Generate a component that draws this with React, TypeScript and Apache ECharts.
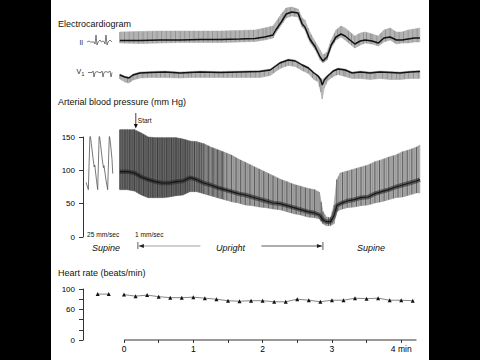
import React, { useEffect, useRef } from "react";
import * as echarts from "echarts";

// ---------- Electrocardiogram (time in minutes, amplitude in mV) ----------
const leadIITime = [-0.06, 0.23, 0.52, 0.81, 1.10, 1.39, 1.67, 1.89, 2.03, 2.15, 2.19, 2.27, 2.34, 2.42, 2.51, 2.57, 2.61, 2.68, 2.76, 2.83, 2.87, 2.93, 2.99, 3.06, 3.13, 3.19, 3.26, 3.33, 3.41, 3.48, 3.58, 3.67, 3.75, 3.84, 3.93, 4.01, 4.10, 4.19, 4.27];
const leadIIUpper = [0.8, 0.85, 0.9, 0.9, 0.9, 0.9, 0.95, 1.0, 1.2, 1.4, 1.8, 2.6, 3.2, 3.3, 3.1, 2.2, 2.0, 0.8, -0.2, -1.0, -1.5, -1.2, 0, 1.0, 1.4, 1.2, 0.8, 0.4, 0.7, 0.8, 0.6, 0.4, 1.0, 1.2, 0.8, 0.8, 1.0, 1.1, 1.2];
const leadIILower = [-0.3, -0.35, -0.3, -0.25, -0.25, -0.25, -0.2, -0.15, 0, 0.2, 0.7, 1.5, 2.2, 2.4, 2.3, 1.3, 1.0, -0.2, -1.0, -2.0, -2.3, -2.0, -0.8, 0, 0.3, 0, -0.4, -0.8, -0.5, -0.3, -0.4, -0.6, -0.2, 0, -0.4, -0.3, -0.3, -0.2, -0.2];
const leadIIBase = [-0.05, -0.05, 0, 0, 0.05, 0.05, 0.1, 0.15, 0.3, 0.5, 1.0, 1.8, 2.6, 2.8, 2.7, 1.6, 1.3, 0.1, -0.7, -1.7, -2.1, -1.7, -0.5, 0.3, 0.6, 0.4, 0, -0.4, -0.1, 0, -0.1, -0.3, 0.2, 0.3, 0, 0, 0.1, 0.2, 0.2];

const v1Time = [-0.06, 0.01, 0.07, 0.13, 0.23, 0.38, 0.59, 0.81, 0.95, 1.10, 1.39, 1.67, 1.96, 2.11, 2.25, 2.37, 2.47, 2.57, 2.66, 2.74, 2.80, 2.84, 2.86, 2.89, 2.94, 3.02, 3.09, 3.19, 3.29, 3.41, 3.55, 3.69, 3.84, 3.98, 4.13, 4.27];
const v1Upper = [-0.2, -0.4, -0.5, -0.2, 0, 0.05, 0.1, 0, 0.05, 0.1, 0.05, 0.1, 0.15, 0.3, 1.0, 1.3, 1.2, 0.8, 0.5, 0, -0.3, -0.6, -0.8, -0.6, -0.3, 0.2, 0.4, 0.3, 0, 0.1, 0, 0.1, 0.05, 0, 0.1, 0.15];
const v1Lower = [-0.7, -1.0, -1.1, -0.8, -0.6, -0.55, -0.55, -0.6, -0.55, -0.55, -0.55, -0.55, -0.55, -0.35, 0.35, 0.65, 0.55, 0.15, -0.15, -0.75, -0.95, -2.0, -2.7, -1.6, -0.85, -0.45, -0.25, -0.45, -0.65, -0.65, -0.75, -0.65, -0.75, -0.75, -0.65, -0.65];
const v1Base = [-0.3, -0.5, -0.6, -0.3, -0.1, -0.05, 0, -0.1, -0.05, 0, -0.05, 0, 0.05, 0.2, 0.9, 1.2, 1.1, 0.7, 0.4, -0.1, -0.4, -0.8, -1.3, -0.8, -0.4, 0.1, 0.3, 0.2, -0.1, 0, -0.1, 0, -0.05, -0.1, 0, 0.05];

// fast-speed reference complexes (left of the strips)
const leadIIRefTime = [-0.534, -0.505, -0.483, -0.433, -0.418, -0.404, -0.390, -0.375, -0.346, -0.325, -0.303, -0.281, -0.274, -0.260, -0.245, -0.231, -0.202, -0.173];
const leadIIRefValue = [-0.2, -0.1, -0.2, -0.2, -0.4, 0.5, -0.5, -0.2, 0, -0.2, -0.1, -0.2, -0.4, 0.5, -0.5, -0.2, 0, -0.2];
const v1RefTime = [-0.52, -0.46, -0.447, -0.433, -0.418, -0.390, -0.361, -0.332, -0.317, -0.303, -0.289, -0.260, -0.231, -0.202, -0.188, -0.173];
const v1RefValue = [-0.05, -0.05, 0.1, -0.5, -0.05, 0.05, -0.05, -0.05, 0.1, -0.5, -0.05, 0.05, -0.05, 0.1, -0.5, -0.05];

// ---------- Arterial blood pressure (mm Hg) ----------
const bpTime = [-0.06, 0.05, 0.15, 0.25, 0.35, 0.45, 0.55, 0.65, 0.75, 0.85, 0.95, 1.05, 1.15, 1.25, 1.35, 1.45, 1.55, 1.65, 1.75, 1.85, 1.95, 2.05, 2.15, 2.25, 2.35, 2.45, 2.55, 2.65, 2.75, 2.82, 2.87, 2.92, 2.98, 3.03, 3.07, 3.12, 3.22, 3.32, 3.42, 3.52, 3.62, 3.72, 3.82, 3.92, 4.02, 4.12, 4.22, 4.27];
const bpSystolic = [161, 161, 161, 156, 150, 149, 149, 149, 149, 147, 144, 143, 140, 135, 131, 127, 123, 117, 112, 107, 102, 97, 92, 87, 83, 79, 76, 73, 71, 67, 38, 30, 29, 48, 86, 96, 99, 102, 105, 108, 113, 116, 120, 123, 128, 131, 135, 138];
const bpDiastolic = [71, 71, 69, 63, 59, 59, 59, 60, 62, 63, 68, 68, 65, 62, 59, 56, 53, 51, 48, 47, 45, 44, 42, 41, 38, 35, 33, 30, 29, 27, 20, 17, 17, 20, 38, 41, 44, 45, 47, 48, 51, 53, 56, 59, 60, 63, 66, 66];
const bpTrace = [98, 98, 96, 90, 86, 83, 81, 81, 83, 84, 89, 86, 81, 78, 74, 71, 68, 65, 63, 60, 57, 54, 51, 50, 47, 44, 41, 38, 36, 33, 26, 23, 23, 32, 47, 50, 54, 56, 59, 60, 65, 68, 71, 75, 78, 81, 84, 86];

// 25 mm/sec supine recording
const fastTime = [-0.548, -0.515, -0.491, -0.472, -0.447, -0.430, -0.422, -0.397, -0.380, -0.358, -0.339, -0.315, -0.297, -0.289, -0.258, -0.236, -0.212, -0.193, -0.173, -0.163];
const fastPressure = [82, 71, 156, 140, 118, 105, 108, 85, 71, 155, 139, 117, 104, 107, 84, 71, 154, 138, 116, 95];

// ---------- Heart rate (beats/min) ----------
const hrSeconds = [0, 10, 20, 30, 40, 50, 60, 70, 80, 90, 100, 110, 120, 130, 140, 150, 160, 170, 180, 190, 200, 210, 220, 230, 240, 250];
const hrRate = [89, 86, 88, 85, 83, 83, 84, 82, 80, 77, 76, 77, 77, 75, 75, 80, 78, 75, 78, 78, 82, 81, 82, 78, 78, 77];
const hrSupineTime = [-0.38, -0.22];
const hrSupineRate = [90, 90];

const xTicks = [0, 0.5, 1, 1.5, 2, 2.5, 3, 3.5, 4];
const xLabels = [0, 1, 2, 3, 4];
const startTime = 0.17;
const uprightSpan = [0.2, 2.87];

const FONT = "Liberation Sans, Arial, Helvetica, sans-serif";
const X_MIN = -0.592;
const X_MAX = 4.28;
const PX_PER_MIN = 69.3;
const GRID_LEFT = 83;
const GRID_W = (X_MAX - X_MIN) * PX_PER_MIN;

function bandRenderer(
  times: number[],
  upper: number[],
  lower: number[],
  fillFor: (t: number) => string,
  hatchFor: (t: number, k: number) => string,
  step: number
) {
  return (params: any, api: any) => {
    const i = params.dataIndex;
    if (i >= times.length - 1) return null;
    const u0 = api.coord([times[i], upper[i]]);
    const u1 = api.coord([times[i + 1], upper[i + 1]]);
    const l0 = api.coord([times[i], lower[i]]);
    const l1 = api.coord([times[i + 1], lower[i + 1]]);
    const tm = (times[i] + times[i + 1]) / 2;
    const fill = fillFor(tm);
    const children: any[] = [
      {
        type: "polygon",
        shape: { points: [u0, u1, l1, l0] },
        style: { fill, stroke: fill, lineWidth: 0.6 },
      },
    ];
    const dx = u1[0] - u0[0];
    const n = Math.max(1, Math.round(dx / step));
    for (let k = 0; k < n; k++) {
      const f = k / n;
      const x = u0[0] + f * dx;
      const yt = u0[1] + f * (u1[1] - u0[1]);
      const yb = l0[1] + f * (l1[1] - l0[1]);
      children.push({
        type: "line",
        shape: { x1: x, y1: yt, x2: x, y2: yb },
        style: { stroke: hatchFor(tm, k + i), lineWidth: 0.8 },
      });
    }
    return { type: "group", children };
  };
}

function bpFill(t: number) {
  if (t < 0.9) return "#666666";
  if (t < 1.5) return "#7c7c7c";
  if (t < 2.9) return "#a0a0a0";
  return "#ababab";
}
function bpHatch(t: number, k: number) {
  if (t < 1.2) return k % 2 ? "#4a4a4a" : "#333333";
  return k % 2 ? "#909090" : "#4a4a4a";
}
const ecgFill = () => "#bababa";
const ecgHatch = (_t: number, k: number) => (k % 3 === 0 ? "#858585" : "#adadad");

export default function App() {
  const ref = useRef<HTMLDivElement>(null);

  useEffect(() => {
    const chart = echarts.init(ref.current!, null, { renderer: "svg" });

    const hiddenX = (gridIndex: number) => ({
      type: "value",
      gridIndex,
      min: X_MIN,
      max: X_MAX,
      show: false,
    });

    const yAxisStyle = {
      axisLine: { show: true, onZero: false, lineStyle: { color: "#333", width: 1 } },
      axisTick: { show: true, length: 4, lineStyle: { color: "#333" } },
      splitLine: { show: false },
    };

    const option: any = {
      animation: false,
      backgroundColor: "#ffffff",
      grid: [
        { left: GRID_LEFT, top: 0, width: GRID_W, height: 70 },
        { left: GRID_LEFT, top: 42, width: GRID_W, height: 63 },
        { left: GRID_LEFT, top: 137, width: GRID_W, height: 100 },
        { left: GRID_LEFT, top: 289, width: GRID_W, height: 51 },
      ],
      xAxis: [
        hiddenX(0),
        hiddenX(1),
        hiddenX(2),
        {
          type: "value",
          gridIndex: 3,
          min: X_MIN,
          max: X_MAX,
          axisLine: { show: false, onZero: false },
          splitLine: { show: false },
          axisTick: {
            show: true,
            customValues: xTicks,
            length: 3,
            lineStyle: { color: "#333", width: 1 },
          },
          axisLabel: {
            customValues: xLabels,
            margin: 4,
            fontFamily: FONT,
            fontSize: 8.5,
            color: "#000",
            formatter: (v: number) =>
              v < 0 || v % 1 !== 0 ? "" : v === 4 ? "4 min" : String(v),
          },
        },
      ],
      yAxis: [
        { type: "value", gridIndex: 0, min: -3, max: 4, show: false },
        { type: "value", gridIndex: 1, min: -3.3, max: 3, show: false },
        {
          type: "value",
          gridIndex: 2,
          min: 0,
          max: 150,
          interval: 50,
          ...yAxisStyle,
          axisLabel: { fontFamily: FONT, fontSize: 8, color: "#000", margin: 8 },
        },
        {
          type: "value",
          gridIndex: 3,
          min: 0,
          max: 100,
          interval: 20,
          ...yAxisStyle,
          axisLabel: {
            fontFamily: FONT,
            fontSize: 8,
            color: "#000",
            margin: 8,
            formatter: (v: number) => (v === 0 || v === 60 || v === 100 ? String(v) : ""),
          },
        },
      ],
      series: [
        // Lead II
        {
          type: "custom",
          xAxisIndex: 0,
          yAxisIndex: 0,
          silent: true,
          data: leadIITime.map((t, i) => [t, leadIIUpper[i], leadIILower[i]]),
          encode: { x: 0, y: [1, 2] },
          renderItem: bandRenderer(leadIITime, leadIIUpper, leadIILower, ecgFill, ecgHatch, 1.5),
          z: 2,
        },
        {
          type: "line",
          xAxisIndex: 0,
          yAxisIndex: 0,
          silent: true,
          data: leadIITime.map((t, i) => [t, leadIIBase[i]]),
          symbol: "none",
          lineStyle: { color: "#111", width: 1.5 },
          z: 3,
        },
        {
          type: "line",
          xAxisIndex: 0,
          yAxisIndex: 0,
          silent: true,
          data: leadIIRefTime.map((t, i) => [t, leadIIRefValue[i]]),
          symbol: "none",
          lineStyle: { color: "#444", width: 0.7 },
        },
        // V1
        {
          type: "custom",
          xAxisIndex: 1,
          yAxisIndex: 1,
          silent: true,
          data: v1Time.map((t, i) => [t, v1Upper[i], v1Lower[i]]),
          encode: { x: 0, y: [1, 2] },
          renderItem: bandRenderer(v1Time, v1Upper, v1Lower, ecgFill, ecgHatch, 1.5),
          z: 2,
        },
        {
          type: "line",
          xAxisIndex: 1,
          yAxisIndex: 1,
          silent: true,
          data: v1Time.map((t, i) => [t, v1Base[i]]),
          symbol: "none",
          lineStyle: { color: "#111", width: 1.4 },
          z: 3,
        },
        {
          type: "line",
          xAxisIndex: 1,
          yAxisIndex: 1,
          silent: true,
          data: v1RefTime.map((t, i) => [t, v1RefValue[i]]),
          symbol: "none",
          lineStyle: { color: "#444", width: 0.7 },
        },
        // Blood pressure strip
        {
          type: "custom",
          xAxisIndex: 2,
          yAxisIndex: 2,
          silent: true,
          data: bpTime.map((t, i) => [t, bpSystolic[i], bpDiastolic[i]]),
          encode: { x: 0, y: [1, 2] },
          renderItem: bandRenderer(bpTime, bpSystolic, bpDiastolic, bpFill, bpHatch, 2.2),
          z: 2,
        },
        {
          type: "line",
          xAxisIndex: 2,
          yAxisIndex: 2,
          silent: true,
          data: bpTime.map((t, i) => [t, bpTrace[i]]),
          symbol: "none",
          lineStyle: { color: "#222", width: 4.5, opacity: 0.55 },
          z: 3,
        },
        {
          type: "line",
          xAxisIndex: 2,
          yAxisIndex: 2,
          silent: true,
          data: bpTime.map((t, i) => [t, bpTrace[i]]),
          symbol: "none",
          lineStyle: { color: "#111", width: 1.2, opacity: 0.9 },
          z: 3,
        },
        {
          type: "line",
          xAxisIndex: 2,
          yAxisIndex: 2,
          silent: true,
          data: fastTime.map((t, i) => [t, fastPressure[i]]),
          symbol: "none",
          lineStyle: { color: "#555", width: 0.8 },
        },
        // Heart rate
        {
          type: "line",
          xAxisIndex: 3,
          yAxisIndex: 3,
          silent: true,
          clip: false,
          data: [
            [0, 0],
            [4.22, 0],
          ],
          symbol: "none",
          lineStyle: { color: "#333", width: 1 },
        },
        {
          type: "line",
          xAxisIndex: 3,
          yAxisIndex: 3,
          silent: true,
          data: hrSeconds.map((s, i) => [s / 60, hrRate[i]]),
          symbol: "triangle",
          symbolSize: 4,
          itemStyle: { color: "#111" },
          lineStyle: { color: "#666", width: 0.8 },
        },
        {
          type: "line",
          xAxisIndex: 3,
          yAxisIndex: 3,
          silent: true,
          data: hrSupineTime.map((t, i) => [t, hrSupineRate[i]]),
          symbol: "triangle",
          symbolSize: 4,
          itemStyle: { color: "#111" },
          lineStyle: { color: "#666", width: 0.8 },
        },
      ],
    };

    chart.setOption(option);

    const px = (t: number, v: number) =>
      chart.convertToPixel({ gridIndex: 2 }, [t, v]) as number[];
    const sx = px(startTime, 150)[0];
    const ux0 = px(uprightSpan[0], 0)[0];
    const ux1 = px(uprightSpan[1], 0)[0];
    const uMid = (ux0 + ux1) / 2;
    const ay = 246;

    const txt = (
      text: string,
      x: number,
      y: number,
      size: number,
      extra: any = {}
    ) => ({
      type: "text",
      x,
      y,
      silent: true,
      style: {
        text,
        fontFamily: FONT,
        fontSize: size,
        fill: "#111",
        textVerticalAlign: "middle",
        textAlign: "left",
        ...extra,
      },
    });

    chart.setOption({
      graphic: [
        { type: "rect", silent: true, shape: { x: 0, y: 0, width: 51, height: 360 }, style: { fill: "#000" } },
        { type: "rect", silent: true, shape: { x: 429, y: 0, width: 51, height: 360 }, style: { fill: "#000" } },
        txt("Electrocardiogram", 58, 24, 9),
        txt("II", 79.5, 42, 6.5),
        txt("V", 76.5, 71.5, 7),
        txt("1", 81.5, 74, 5),
        txt("Arterial blood pressure (mm Hg)", 58, 101.5, 9),
        txt("Heart rate (beats/min)", 58, 273, 9),
        txt("25 mm/sec", 87, 234, 6.6),
        txt("1 mm/sec", 135, 234, 6.6),
        txt("Start", sx + 2, 120, 6.5),
        { type: "line", silent: true, shape: { x1: sx, y1: 113, x2: sx, y2: 125 }, style: { stroke: "#111", lineWidth: 0.8 } },
        { type: "polygon", silent: true, shape: { points: [[sx - 2, 124], [sx + 2, 124], [sx, 128.5]] }, style: { fill: "#111" } },
        txt("Supine", 106, ay + 1.5, 9, { fontStyle: "italic", textAlign: "center" }),
        txt("Upright", uMid, ay + 1.5, 9, { fontStyle: "italic", textAlign: "center" }),
        txt("Supine", 371, ay + 1.5, 9, { fontStyle: "italic", textAlign: "center" }),
        { type: "line", silent: true, shape: { x1: ux0, y1: ay - 4, x2: ux0, y2: ay + 3 }, style: { stroke: "#333", lineWidth: 0.8 } },
        { type: "line", silent: true, shape: { x1: ux0 + 1, y1: ay, x2: uMid - 30, y2: ay }, style: { stroke: "#888", lineWidth: 0.8 } },
        { type: "polygon", silent: true, shape: { points: [[ux0 + 0.8, ay], [ux0 + 6, ay - 2], [ux0 + 6, ay + 2]] }, style: { fill: "#222" } },
        { type: "line", silent: true, shape: { x1: uMid + 31, y1: ay, x2: ux1 - 1, y2: ay }, style: { stroke: "#333", lineWidth: 0.8 } },
        { type: "polygon", silent: true, shape: { points: [[ux1 - 0.8, ay], [ux1 - 6, ay - 2], [ux1 - 6, ay + 2]] }, style: { fill: "#222" } },
        { type: "line", silent: true, shape: { x1: ux1, y1: ay - 4, x2: ux1, y2: ay + 4 }, style: { stroke: "#333", lineWidth: 0.8 } },
      ],
    });

    return () => chart.dispose();
  }, []);

  return (
    <div
      ref={ref}
      style={{ position: "absolute", left: 0, top: 0, width: 480, height: 360 }}
    />
  );
}
